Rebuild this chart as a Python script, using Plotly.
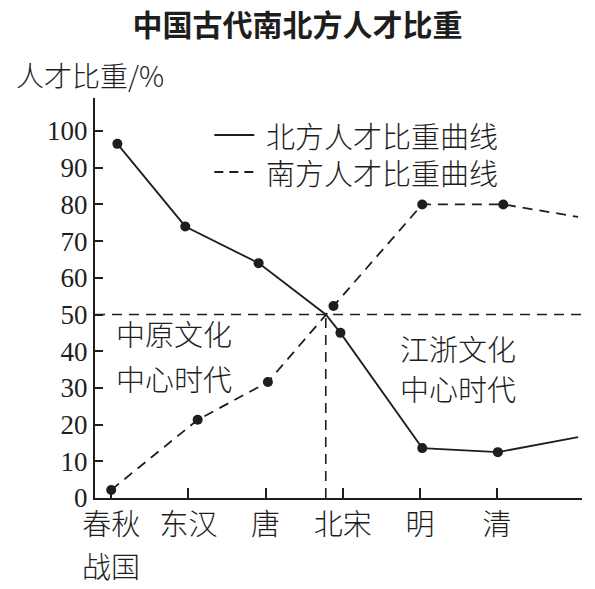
import plotly.graph_objects as go

# era positions (tick slots) and labels
ERA_POS = [0, 1, 2, 3, 4, 5]
ERAS = ["春秋", "东汉", "唐", "北宋", "明", "清"]

# northern share (%) with the x slot each dot was drawn at
NORTH_X = [0.08, 0.96, 1.91, 2.97, 4.03, 5.01]
NORTH_Y = [96.5, 74, 64, 45, 13.6, 12.5]
# southern share (%)
SOUTH_X = [0.0, 1.12, 2.03, 2.88, 4.03, 5.08]
SOUTH_Y = [2.2, 21.3, 31.6, 52.3, 80, 80]

# where the two curves cross, and where they run off the right edge
CROSS_X, CROSS_Y = 2.78, 50
TAIL_X = 6.05
NORTH_TAIL, SOUTH_TAIL = 16.6, 76.6

SERIES = ["北方人才比重曲线", "南方人才比重曲线"]

CJK = "Noto Sans CJK SC"
SERIF = "Liberation Serif"
INK = "#1e1e1e"
DASH = "10px,7px"


def with_cross(xs, ys, tail):
    # line runs through the crossing point between 唐 and 北宋, then trails off
    lx = xs[:3] + [CROSS_X] + xs[3:] + [TAIL_X]
    ly = ys[:3] + [CROSS_Y] + ys[3:] + [tail]
    return lx, ly


def cjk(size):
    return dict(family=CJK, size=size, color=INK, weight=300)


nx, ny = with_cross(NORTH_X, NORTH_Y, NORTH_TAIL)
sx, sy = with_cross(SOUTH_X, SOUTH_Y, SOUTH_TAIL)

fig = go.Figure()
fig.add_trace(go.Scatter(x=nx, y=ny, mode="lines", name=SERIES[0], showlegend=False,
                         line=dict(color=INK, width=1.8)))
fig.add_trace(go.Scatter(x=sx, y=sy, mode="lines", name=SERIES[1], showlegend=False,
                         line=dict(color=INK, width=1.8, dash=DASH)))
fig.add_trace(go.Scatter(x=NORTH_X, y=NORTH_Y, mode="markers", showlegend=False,
                         marker=dict(color=INK, size=10), cliponaxis=False))
fig.add_trace(go.Scatter(x=SOUTH_X, y=SOUTH_Y, mode="markers", showlegend=False,
                         marker=dict(color=INK, size=10), cliponaxis=False))

# 50% reference line and the drop line from the crossing
fig.add_shape(type="line", xref="paper", x0=0, x1=1, yref="y", y0=CROSS_Y, y1=CROSS_Y,
              line=dict(color=INK, width=1.6, dash=DASH))
fig.add_shape(type="line", xref="x", x0=CROSS_X, x1=CROSS_X, yref="y", y0=0, y1=CROSS_Y,
              line=dict(color=INK, width=1.6, dash=DASH))

# hand-drawn legend: sample line + label
for name, dash, ly in [(SERIES[0], "solid", 0.9075), (SERIES[1], "9px,6px", 0.815)]:
    fig.add_shape(type="line", xref="paper", yref="paper", x0=0.245, x1=0.327,
                  y0=ly, y1=ly, line=dict(color=INK, width=1.8, dash=dash))
    fig.add_annotation(x=0.348, xref="paper", y=ly, yref="paper", text=name,
                       showarrow=False, xanchor="left", yanchor="middle", font=cjk(29))

notes = [
    ("中原文化", 0.04, 45.0),
    ("中心时代", 0.04, 32.7),
    ("江浙文化", 3.71, 40.9),
    ("中心时代", 3.71, 30.0),
]
for txt, ax, ay in notes:
    fig.add_annotation(x=ax, y=ay, text=txt, showarrow=False, xanchor="left",
                       yanchor="middle", font=cjk(29))

# second line of the first tick label
fig.add_annotation(x=ERA_POS[0], y=0, yref="paper", yshift=-67, text="战国",
                   showarrow=False, yanchor="middle", font=cjk(29))
# y axis caption
fig.add_annotation(x=-0.167, xref="paper", y=1.0575, yref="paper", text="人才比重/%",
                   showarrow=False, xanchor="left", yanchor="middle", font=cjk(28))

fig.update_layout(
    width=595, height=589,
    margin=dict(l=95, r=13, t=98, b=91),
    paper_bgcolor="white", plot_bgcolor="white",
    showlegend=False,
    title=dict(text="<b>中国古代南北方人才比重</b>", x=0.5, xref="container",
               xanchor="center", y=1 - 25 / 589, yanchor="middle",
               font=dict(family=CJK, size=30, color=INK)),
    xaxis=dict(range=[-0.21, 6.1], tickvals=ERA_POS, ticktext=ERAS,
               ticks="inside", ticklen=10, tickwidth=1.6, tickcolor=INK,
               showline=True, linecolor=INK, linewidth=2, showgrid=False,
               zeroline=False, tickfont=cjk(29)),
    yaxis=dict(range=[0, 109], tickvals=list(range(0, 101, 10)),
               ticks="inside", ticklen=8, tickwidth=1.6, tickcolor=INK,
               showline=True, linecolor=INK, linewidth=2, showgrid=False,
               zeroline=False, tickfont=dict(family=SERIF, size=27, color=INK)),
)

fig.write_html("out.html", config={"displayModeBar": False},
               post_script="document.body.style.margin='0';")
